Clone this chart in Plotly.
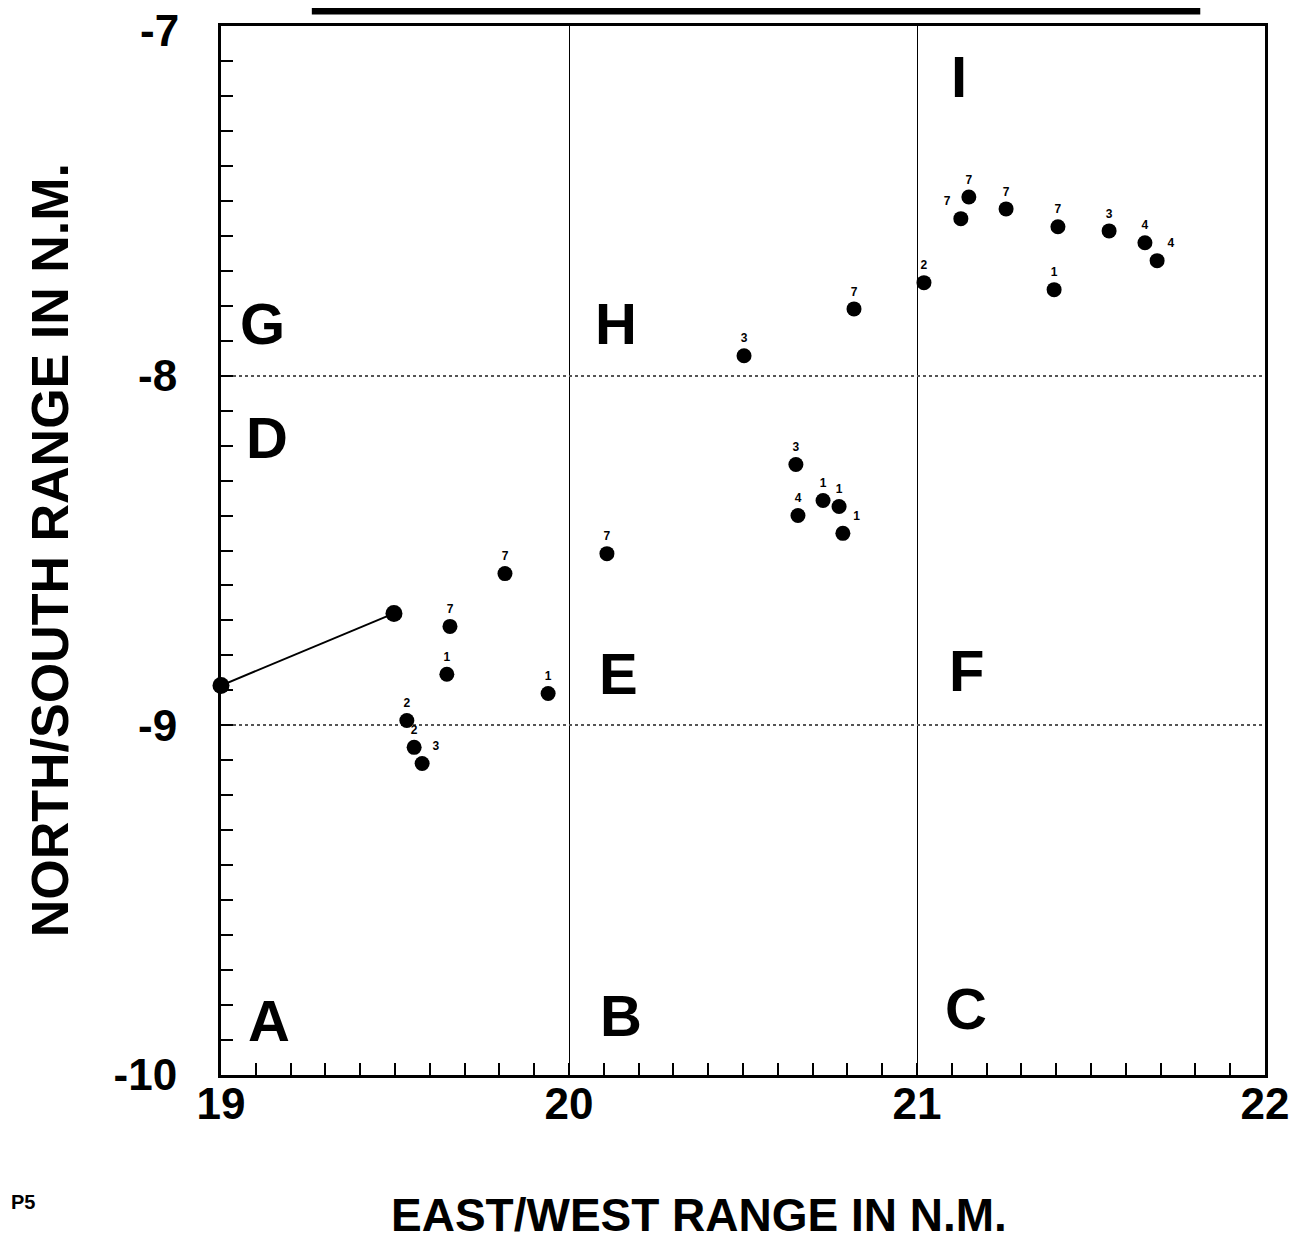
import plotly.graph_objects as go

# plotted fixes (east/west, north/south in N.M.) with their small digit labels
EW = [19.534, 19.555, 19.578, 19.649, 19.658, 19.816, 19.940, 20.109,
      20.503, 20.652, 20.658, 20.730, 20.776, 20.787, 20.819, 21.020,
      21.126, 21.149, 21.256, 21.405, 21.394, 21.552, 21.655, 21.690]
NS = [-8.986, -9.063, -9.109, -8.854, -8.717, -8.566, -8.909, -8.509,
      -7.943, -8.254, -8.400, -8.357, -8.374, -8.451, -7.809, -7.734,
      -7.551, -7.489, -7.523, -7.574, -7.754, -7.586, -7.620, -7.671]
LABELS = ["2", "2", "3", "1", "7", "7", "1", "7",
          "3", "3", "4", "1", "1", "1", "7", "2",
          "7", "7", "7", "7", "1", "3", "4", "4"]
LABEL_POS = ["top center", "top center", "top right", "top center", "top center",
             "top center", "top center", "top center", "top center", "top center",
             "top center", "top center", "top center", "top right", "top center",
             "top center", "top left", "top center", "top center", "top center",
             "top center", "top center", "top center", "top right"]

# connected pair at the left
TRACK_EW = [19.0, 19.497]
TRACK_NS = [-8.886, -8.68]

# grid cell letters
REGIONS = ["G", "H", "I", "D", "E", "F", "A", "B", "C"]
REGION_EW = [19.12, 20.134, 21.121, 19.132, 20.141, 21.141, 19.138, 20.149, 21.141]
REGION_NS = [-7.851, -7.851, -7.143, -8.177, -8.851, -8.843, -9.843, -9.829, -9.811]

X_TICKS = [19, 20, 21, 22]
X_TICK_LABELS = ["19", "20", "21", "22"]
Y_TICKS = [-10, -9, -8, -7]
Y_TICK_LABELS = ["-10", "-9", "-8", "-7"]

FONT = "Liberation Sans, Arial, Helvetica, sans-serif"
TICK_FONT = dict(family=FONT, size=44, color="black", weight="bold")

fig = go.Figure()

fig.add_trace(go.Scatter(
    x=TRACK_EW, y=TRACK_NS, mode="lines+markers",
    line=dict(color="black", width=2),
    marker=dict(color="black", size=17),
    hoverinfo="skip", showlegend=False, cliponaxis=False,
))

fig.add_trace(go.Scatter(
    x=EW, y=NS, mode="markers+text",
    text=LABELS, textposition=LABEL_POS,
    textfont=dict(family=FONT, size=12, color="black", weight="bold"),
    marker=dict(color="black", size=15),
    showlegend=False,
))

for letter, ex, ny in zip(REGIONS, REGION_EW, REGION_NS):
    fig.add_annotation(
        x=ex, y=ny, xref="x", yref="y", text=letter, showarrow=False,
        font=dict(family=FONT, size=58, color="black", weight="bold"),
    )

# top y tick label sits against the page edge, so it is drawn by hand
fig.add_annotation(
    x=0, y=Y_TICKS[-1], xref="paper", yref="y", xanchor="right",
    xshift=-40, yshift=-4, text=Y_TICK_LABELS[-1], showarrow=False,
    font=TICK_FONT,
)

# axis titles and page mark
fig.add_annotation(
    x=0.458, y=-0.133, xref="paper", yref="paper", yanchor="middle",
    text="EAST/WEST RANGE IN N.M.", showarrow=False,
    font=dict(family=FONT, size=46, color="black", weight="bold"),
)
fig.add_annotation(
    x=-0.164, y=0.5, xref="paper", yref="paper", xanchor="center",
    text="NORTH/SOUTH RANGE IN N.M.", showarrow=False, textangle=-90,
    font=dict(family=FONT, size=52, color="black", weight="bold"),
)
fig.add_annotation(
    x=-0.203, y=-0.133, xref="paper", yref="paper", xanchor="left",
    text="<b>P5</b>", showarrow=False,
    font=dict(family=FONT, size=20, color="black"),
)

# title box cut off at the top of the page, with its heavy shadow
fig.add_shape(type="rect", xref="paper", yref="paper",
              x0=0.087, x1=0.938, y0=1.011, y1=1.0225,
              fillcolor="black", line=dict(width=0))
fig.add_shape(type="rect", xref="paper", yref="paper",
              x0=0.08, x1=0.932, y0=1.0205, y1=1.04,
              fillcolor="white", line=dict(color="black", width=2))

fig.update_layout(
    width=1304, height=1250,
    margin=dict(l=213, r=47, t=18, b=183),
    plot_bgcolor="white", paper_bgcolor="white",
    font=dict(family=FONT, color="black"),
    showlegend=False,
)

fig.update_xaxes(
    range=[19, 22], tickvals=X_TICKS, ticktext=X_TICK_LABELS,
    ticks="inside", ticklen=12, tickwidth=2, tickcolor="black",
    minor=dict(dtick=0.1, ticks="inside", ticklen=12, tickwidth=2,
               tickcolor="black", showgrid=False),
    showgrid=True, gridcolor="black", gridwidth=1.2,
    showline=True, linecolor="black", linewidth=3, mirror=True,
    zeroline=False, ticklabelstandoff=-12, automargin=False,
    ticklabeloverflow="allow", tickfont=TICK_FONT,
)
fig.update_yaxes(
    range=[-10, -7], tickvals=Y_TICKS,
    ticktext=Y_TICK_LABELS[:-1] + [""],
    ticks="inside", ticklen=12, tickwidth=2, tickcolor="black",
    minor=dict(dtick=0.1, ticks="inside", ticklen=12, tickwidth=2,
               tickcolor="black", showgrid=False),
    showgrid=True, gridcolor="#555555", gridwidth=1.5, griddash="dot",
    showline=True, linecolor="black", linewidth=3, mirror=True,
    zeroline=False, ticklabelstandoff=32, automargin=False,
    ticklabeloverflow="allow", tickfont=TICK_FONT,
)

fig.write_html("out.html")
